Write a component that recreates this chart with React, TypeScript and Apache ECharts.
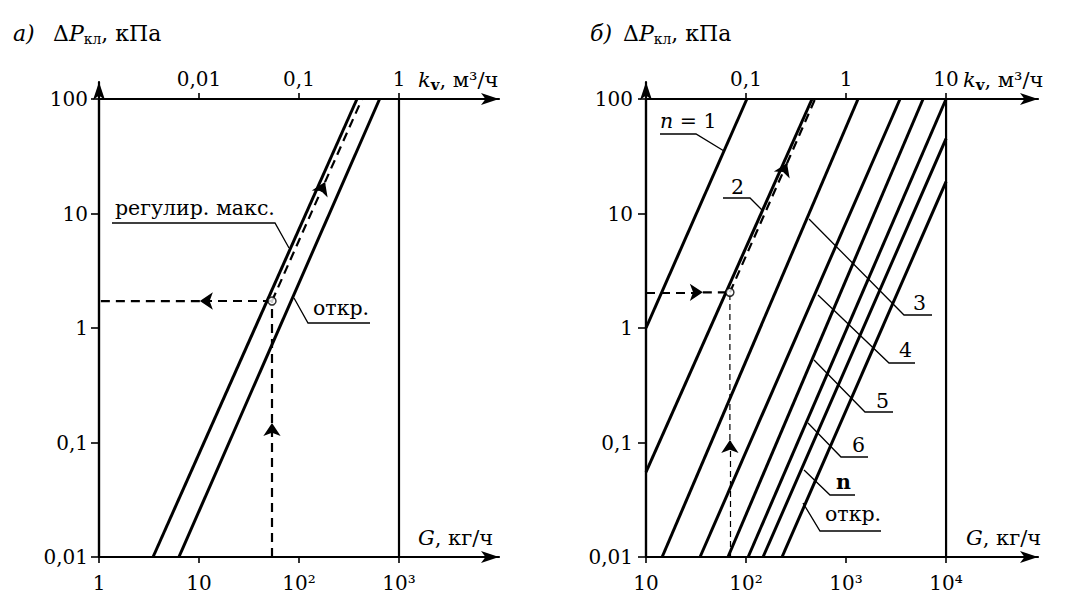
import React, { useEffect, useRef } from 'react';
import * as echarts from 'echarts';

const FONT = 'DejaVu Serif';

// ---- tick values / labels ----
const DP_TICKS = [0.01, 0.1, 1, 10, 100];
const DP_LABELS = ['0,01', '0,1', '1', '10', '100'];
const G_TICKS_A = [1, 10, 100, 1000];
const G_LABELS_A = ['1', '10', '10²', '10³'];
const KV_TICKS_A = [0.01, 0.1, 1];
const KV_LABELS_A = ['0,01', '0,1', '1'];
const G_TICKS_B = [10, 100, 1000, 10000];
const G_LABELS_B = ['10', '10²', '10³', '10⁴'];
const KV_TICKS_B = [0.1, 1, 10];
const KV_LABELS_B = ['0,1', '1', '10'];

// ---- panel а) curves [G, ΔP] ----
const A_REGUL = [[3.47, 0.01], [380, 100]];
const A_OTKR = [[6.3, 0.01], [640, 100]];
const A_BORDER = [[1000, 0.01], [1000, 100]];
const A_POINT = [53.7, 1.72];
const A_H_ARROW = [[53.7, 1.72], [10.2, 1.72]];
const A_H_REST = [[10.2, 1.72], [1, 1.72]];
const A_V_ARROW = [[53.7, 0.01], [53.7, 0.148]];
const A_V_REST = [[53.7, 0.148], [53.7, 1.72]];
const A_D_ARROW = [[53.7, 1.72], [182, 18.8]];
const A_D_REST = [[182, 18.8], [427, 100]];

// ---- panel б) curves [G, ΔP] ----
const B_N1 = [[10, 1.0], [102, 100]];
const B_N2 = [[10, 0.055], [457, 100]];
const B_N3 = [[14.5, 0.01], [1318, 100]];
const B_N4 = [[34.7, 0.01], [3467, 100]];
const B_N5 = [[66, 0.01], [5890, 100]];
const B_N6 = [[105, 0.01], [10000, 100]];
const B_NN = [[148, 0.01], [10000, 45]];
const B_OTKR = [[229, 0.01], [10000, 19]];
const B_BORDER = [[10000, 0.01], [10000, 100]];
const B_POINT = [69, 2.05];
const B_H_ARROW = [[10, 2.05], [37, 2.05]];
const B_H_REST = [[37, 2.05], [69, 2.05]];
const B_V_ARROW = [[69, 0.01], [69, 0.105]];
const B_V_REST = [[69, 0.105], [69, 2.05]];
const B_D_ARROW = [[69, 2.05], [257, 27.5]];
const B_D_REST = [[257, 27.5], [490, 100]];

const lbl = (ticks: number[], labels: string[]) => (v: number) => {
  const i = ticks.findIndex((t) => Math.abs(Math.log10(t) - Math.log10(v)) < 1e-6);
  return i >= 0 ? labels[i] : '';
};

const AXIS_LINE = { color: '#000', width: 2.2 };
const ARROW_SIZE = [9, 18];

function logX(grid: number, pos: string, min: number, max: number, ticks: number[], labels: string[], margin: number) {
  return {
    type: 'log', logBase: 10, gridIndex: grid, position: pos, min, max,
    axisLine: { show: true, symbol: ['none', 'arrow'], symbolSize: ARROW_SIZE, lineStyle: AXIS_LINE },
    axisTick: { show: true, length: 6, lineStyle: { color: '#000', width: 1.6 }, customValues: ticks },
    axisLabel: {
      show: true, margin, color: '#000', fontFamily: FONT, fontSize: 20,
      customValues: ticks, formatter: lbl(ticks, labels), hideOverlap: false,
    },
    splitLine: { show: false }, minorTick: { show: false }, minorSplitLine: { show: false },
  };
}

function logY(grid: number, margin: number) {
  return {
    type: 'log', logBase: 10, gridIndex: grid, min: 0.01, max: 100,
    axisLine: { show: true, lineStyle: AXIS_LINE },
    axisTick: { show: true, length: 8, lineStyle: { color: '#000', width: 1.6 }, customValues: DP_TICKS },
    axisLabel: {
      show: true, margin, color: '#000', fontFamily: FONT, fontSize: 20,
      customValues: DP_TICKS, formatter: lbl(DP_TICKS, DP_LABELS),
    },
    splitLine: { show: false }, minorTick: { show: false }, minorSplitLine: { show: false },
  };
}

const dummyX = (grid: number) => ({ type: 'value', gridIndex: grid, show: false, min: 0, max: 1 });
const dummyY = (grid: number) => ({
  type: 'value', gridIndex: grid, min: 0, max: 1,
  axisLine: { show: true, symbol: ['none', 'arrow'], symbolSize: ARROW_SIZE, lineStyle: AXIS_LINE },
  axisTick: { show: false }, axisLabel: { show: false }, splitLine: { show: false },
});

const solid = (data: number[][], xi: number, yi: number, width = 3) => ({
  type: 'line', data, xAxisIndex: xi, yAxisIndex: yi, symbol: 'none', silent: true,
  lineStyle: { color: '#000', width }, z: 3,
});
const dashed = (data: number[][], xi: number, yi: number, width = 2.2, dash = [9, 6]) => ({
  type: 'line', data, xAxisIndex: xi, yAxisIndex: yi, symbol: 'none', silent: true,
  lineStyle: { color: '#000', width, type: dash }, z: 4,
});
const arrow = (data: number[][], xi: number, yi: number, width = 2.2, dash: any = [9, 6]) => ({
  type: 'lines', coordinateSystem: 'cartesian2d', xAxisIndex: xi, yAxisIndex: yi, silent: true,
  symbol: ['none', 'arrow'], symbolSize: 13, z: 4,
  lineStyle: { color: '#000', width, type: dash, opacity: 1 },
  data: [{ coords: data }],
});
const point = (p: number[], xi: number, yi: number) => ({
  type: 'scatter', data: [p], xAxisIndex: xi, yAxisIndex: yi, symbol: 'circle', symbolSize: 8, silent: true, z: 6,
  itemStyle: { color: '#fff', borderColor: '#000', borderWidth: 1.5 },
});

const txt = (x: number, y: number, text: string, extra: any = {}) => ({
  type: 'text', x, y, z: 10,
  style: {
    text, fill: '#000', fontFamily: FONT, fontSize: 20.5, align: 'left', verticalAlign: 'middle',
    ...extra,
  },
});
const richSet = (size: number) => ({
  n: { fontFamily: FONT, fontSize: size, color: '#000' },
  i: { fontFamily: FONT, fontSize: size, fontStyle: 'italic', color: '#000' },
  s: { fontFamily: FONT, fontSize: 14, color: '#000', padding: [11, 0, 0, 0] },
  sv: { fontFamily: FONT, fontSize: 15, fontWeight: 'bold', color: '#000', padding: [9, 0, 0, 0] },
});
const rtxt = (x: number, y: number, text: string, size = 21) => ({
  type: 'text', x, y, z: 10,
  style: { text, rich: richSet(size), fill: '#000', fontFamily: FONT, fontSize: size, align: 'left', verticalAlign: 'middle' },
});
const leader = (pts: number[][]) => ({
  type: 'polyline', z: 10, shape: { points: pts },
  style: { stroke: '#000', lineWidth: 1.3, fill: 'none' },
});

const option: any = {
  animation: false,
  backgroundColor: '#fff',
  grid: [
    { left: 99, top: 99, width: 400, height: 458, outerBoundsMode: 'none' },
    { left: 99, top: 82, width: 400, height: 475, outerBoundsMode: 'none' },
    { left: 646, top: 99, width: 392, height: 458, outerBoundsMode: 'none' },
    { left: 646, top: 82, width: 392, height: 475, outerBoundsMode: 'none' },
  ],
  xAxis: [
    logX(0, 'bottom', 1, 10000, G_TICKS_A, G_LABELS_A, 16),
    logX(0, 'top', 0.001, 10, KV_TICKS_A, KV_LABELS_A, 10),
    dummyX(1),
    logX(2, 'bottom', 10, 83000, G_TICKS_B, G_LABELS_B, 16),
    logX(2, 'top', 0.01, 83, KV_TICKS_B, KV_LABELS_B, 10),
    dummyX(3),
  ],
  yAxis: [logY(0, 11), dummyY(1), logY(2, 13), dummyY(3)],
  series: [
    solid(A_REGUL, 0, 0), solid(A_OTKR, 0, 0), solid(A_BORDER, 0, 0, 2.2),
    dashed(A_H_REST, 0, 0), dashed(A_V_REST, 0, 0), dashed(A_D_REST, 0, 0),
    arrow(A_H_ARROW, 0, 0), arrow(A_V_ARROW, 0, 0), arrow(A_D_ARROW, 0, 0),
    point(A_POINT, 0, 0),
    solid(B_N1, 3, 2), solid(B_N2, 3, 2), solid(B_N3, 3, 2), solid(B_N4, 3, 2),
    solid(B_N5, 3, 2), solid(B_N6, 3, 2), solid(B_NN, 3, 2), solid(B_OTKR, 3, 2),
    solid(B_BORDER, 3, 2, 2.2),
    dashed(B_H_REST, 3, 2), dashed(B_V_REST, 3, 2, 1.2, [6, 4]), dashed(B_D_REST, 3, 2),
    arrow(B_H_ARROW, 3, 2), arrow(B_V_ARROW, 3, 2, 1.2, [6, 4]), arrow(B_D_ARROW, 3, 2),
    point(B_POINT, 3, 2),
  ],
  graphic: [
    // titles
    txt(13, 33, 'а)', { fontStyle: 'italic', fontSize: 22 }),
    rtxt(53, 33, '{n|Δ}{i|P}{s|кл}{n|, кПа}', 22),
    txt(590, 33, 'б)', { fontStyle: 'italic', fontSize: 22 }),
    rtxt(623, 33, '{n|Δ}{i|P}{s|кл}{n|, кПа}', 22),
    // axis names
    rtxt(418, 80, '{i|k}{sv|v}{n|, м³/ч}'),
    rtxt(963, 80, '{i|k}{sv|v}{n|, м³/ч}'),
    rtxt(418, 538, '{i|G}{n|, кг/ч}'),
    rtxt(966, 538, '{i|G}{n|, кг/ч}'),
    // panel а) annotations
    leader([[112, 223], [275, 223], [289, 248]]),
    txt(115, 208, 'регулир. макс.'),
    leader([[370, 323], [308, 323], [294, 298]]),
    txt(313, 308, 'откр.'),
    // panel б) annotations
    leader([[660, 134], [696, 134], [724, 151]]),
    rtxt(660, 121, '{i|n}{n| = 1}', 20.5),
    leader([[723, 198], [750, 198], [762, 210]]),
    txt(731, 187, '2'),
    leader([[932, 315], [904, 315], [809, 219]]),
    txt(913, 303, '3'),
    leader([[915, 363], [889, 363], [818, 295]]),
    txt(899, 350, '4'),
    leader([[893, 412], [865, 412], [814, 360]]),
    txt(876, 401, '5'),
    leader([[868, 457], [841, 457], [808, 423]]),
    txt(852, 445, '6'),
    leader([[855, 495], [830, 495], [804, 470]]),
    txt(836, 482, 'n', { fontWeight: 'bold' }),
    leader([[881, 531], [820, 531], [803, 503]]),
    txt(825, 514, 'откр.'),
  ],
};

export default function App() {
  const ref = useRef<HTMLDivElement>(null);
  useEffect(() => {
    const chart = echarts.init(ref.current!, null, { renderer: 'svg' });
    chart.setOption(option);
    return () => chart.dispose();
  }, []);
  return <div ref={ref} style={{ position: 'absolute', left: 0, top: 0, width: 1073, height: 606 }} />;
}
